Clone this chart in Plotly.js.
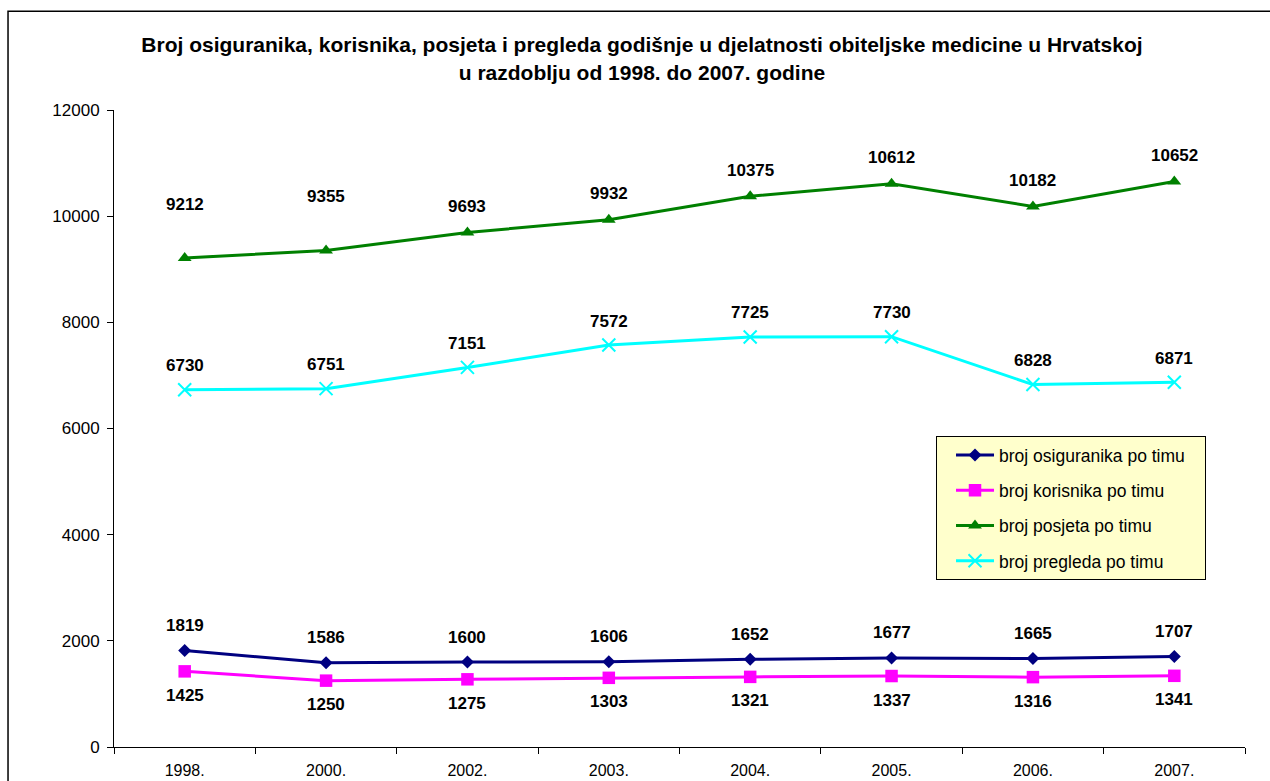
<!DOCTYPE html>
<html>
<head>
<meta charset="utf-8">
<script src="https://cdn.plot.ly/plotly-3.0.1.min.js"></script>
<style>
html,body{margin:0;padding:0;background:#fff;}
#chart{width:1270px;height:781px;}
</style>
</head>
<body>
<div id="chart"></div>
<script>
const years = ['1998.','2000.','2002.','2003.','2004.','2005.','2006.','2007.'];
const osiguranika = [1819,1586,1600,1606,1652,1677,1665,1707];
const korisnika = [1425,1250,1275,1303,1321,1337,1316,1341];
const posjeta = [9212,9355,9693,9932,10375,10612,10182,10652];
const pregleda = [6730,6751,7151,7572,7725,7730,6828,6871];
const seriesNames = ['broj osiguranika po timu','broj korisnika po timu','broj posjeta po timu','broj pregleda po timu'];

const FONT = 'Liberation Sans, Arial, sans-serif';
const PAD = '\u00a0\u00a0\u00a0';

function tr(name, y, color, symbol, size, group, extraMarker) {
  return {
    type: 'scatter', mode: 'lines+markers', name: name + PAD, x: years, y: y,
    legendgroup: group,
    line: {color: color, width: 3},
    marker: Object.assign({symbol: symbol, size: size, color: color}, extraMarker || {}),
    cliponaxis: false
  };
}

const data = [
  tr(seriesNames[0], osiguranika, '#000080', 'diamond', 10, 'g1'),
  tr(seriesNames[1], korisnika, '#FF00FF', 'square', 12.5, 'g2'),
  tr(seriesNames[2], posjeta, '#008000', 'triangle-up', 12, 'g3'),
  tr(seriesNames[3], pregleda, '#00FFFF', 'x-thin-open', 13, 'g4', {line: {color: '#00FFFF', width: 2}})
];

const annotations = [];
function addLabels(vals, shiftFn) {
  vals.forEach((v, i) => {
    annotations.push({
      x: i, y: v, xref: 'x', yref: 'y', text: '<b>' + v + '</b>',
      showarrow: false, yshift: shiftFn(i), xanchor: 'center', yanchor: 'middle',
      font: {family: FONT, size: 17, color: '#000'}
    });
  });
}
addLabels(osiguranika, () => 25);
addLabels(korisnika, () => -24);
addLabels(posjeta, i => (i < 2 ? 54 : 26));
addLabels(pregleda, () => 24);

const layout = {
  width: 1270, height: 781,
  margin: {l: 114, r: 25, t: 110, b: 34},
  paper_bgcolor: '#fff', plot_bgcolor: '#fff',
  font: {family: FONT, size: 16, color: '#000'},
  title: {
    text: '<b>Broj osiguranika, korisnika, posjeta i pregleda godišnje u djelatnosti obiteljske medicine u Hrvatskoj<br>u razdoblju od 1998. do 2007. godine</b>',
    font: {family: FONT, size: 21, color: '#000'},
    xref: 'container', x: 0.5055, xanchor: 'center',
    yref: 'container', y: 0.933, yanchor: 'middle'
  },
  xaxis: {
    type: 'category', range: [-0.5, 7.5], showgrid: false, zeroline: false,
    showline: true, linecolor: '#000', linewidth: 1,
    ticks: 'outside', tickson: 'boundaries', ticklen: 6, tickcolor: '#000',
    ticklabelstandoff: 9,
    tickfont: {family: FONT, size: 16}
  },
  yaxis: {
    range: [0, 12000], dtick: 2000, tick0: 0, tickformat: 'd', showgrid: false, zeroline: false,
    showline: true, linecolor: '#000', linewidth: 1,
    ticks: 'outside', ticklen: 6, tickcolor: '#000',
    ticklabelstandoff: 4,
    tickfont: {family: FONT, size: 17}
  },
  showlegend: true,
  legend: {
    x: 0.7268, y: 0.488, xanchor: 'left', yanchor: 'top',
    bgcolor: '#FFFFCC', bordercolor: '#000', borderwidth: 1,
    font: {family: FONT, size: 17.5, color: '#000'},
    traceorder: 'grouped', tracegroupgap: 9.5,
    indentation: 14, itemwidth: 38
  },
  annotations: annotations,
  shapes: [{
    type: 'rect', xref: 'paper', yref: 'paper',
    x0: -0.0937, x1: 1.2, y0: -0.3, y1: 1.155,
    line: {color: '#000', width: 1.5}, fillcolor: 'rgba(0,0,0,0)', layer: 'above'
  }]
};

Plotly.newPlot('chart', data, layout, {displayModeBar: false, staticPlot: true});
</script>
</body>
</html>
